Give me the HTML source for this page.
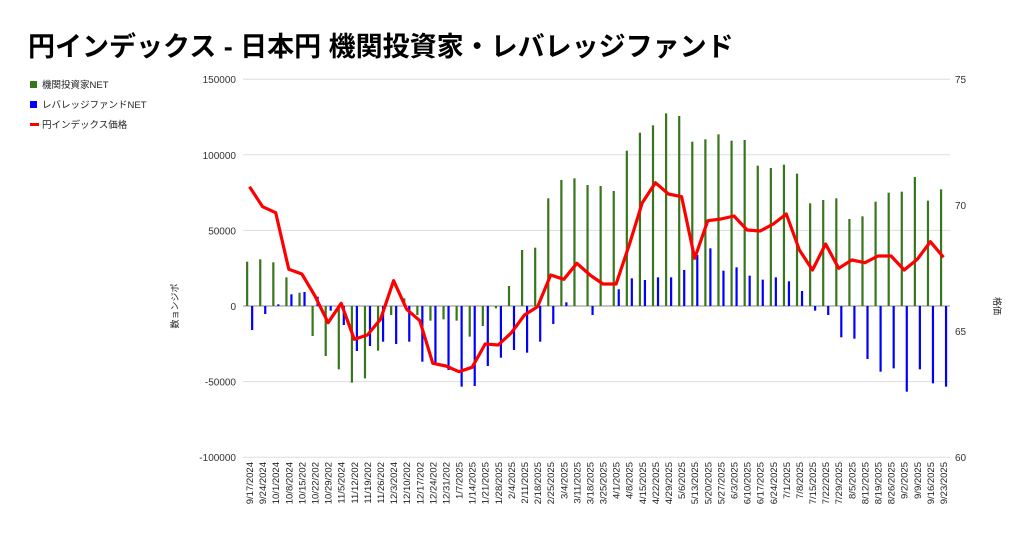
<!DOCTYPE html><html><head><meta charset="utf-8"><style>body{margin:0;background:#fff;}svg{display:block;font-family:"Liberation Sans","Noto Sans CJK JP",sans-serif;}</style></head><body>
<svg id="c" width="1024" height="540" xmlns="http://www.w3.org/2000/svg">
<text x="28" y="56" font-size="27" font-weight="bold" fill="#000">円インデックス - 日本円 機関投資家・レバレッジファンド</text>
<rect x="30" y="81" width="7" height="7" fill="#38761d"/><text x="42" y="88" font-size="9.5" fill="#222">機関投資家NET</text>
<rect x="30" y="101" width="7" height="7" fill="#0000ff"/><text x="42" y="108" font-size="9.5" fill="#222">レバレッジファンドNET</text>
<rect x="30" y="123" width="9" height="3" fill="#ff0000"/><text x="42" y="128" font-size="9.5" fill="#222">円インデックス価格</text>
<text transform="translate(178,306) rotate(-90)" text-anchor="middle" font-size="9" fill="#222">数ョンジポ</text>
<text transform="translate(994,306) rotate(90)" text-anchor="middle" font-size="9" fill="#222">格価</text>
<g id="g"></g>
</svg>
<script>
var g=document.getElementById('g'),s='';
var L=243,R=950,W=(R-L)/54;
var ticks=[150000,100000,50000,0,-50000,-100000];
ticks.forEach(function(v){var y=306-v*75.6/50000;
s+='<line x1="'+L+'" x2="'+R+'" y1="'+y+'" y2="'+y+'" stroke="'+(v==0?'#888':'#ddd')+'" stroke-width="1"/>';
s+='<text x="236" y="'+(y+4)+'" text-anchor="end" font-size="10" fill="#333">'+v+'</text>';});
[[75,79],[70,205],[65,331],[60,457]].forEach(function(a){s+='<text x="955" y="'+(a[1]+4)+'" font-size="10" fill="#333">'+a[0]+'</text>';});
var gr=[605,598,607,652,698,828,888,928,968,955,872,765,715,765,782,778,782,830,798,745,678,570,563,415,360,355,375,378,393,272,218,196,160,168,245,238,223,242,240,317,324,314,341,430,420,415,477,469,425,398,395,351,422,388];
var bl=[810,762,733,703,696,710,752,795,873,858,845,852,845,905,910,930,980,978,918,893,870,878,845,792,727,738,765,738,688,655,660,652,652,630,585,565,632,622,647,659,652,664,693,752,765,832,836,897,935,925,995,928,970,980];
var rd=[380,440,458,628,642,708,788,730,838,825,778,662,748,782,910,918,935,922,852,855,818,765,740,645,658,610,645,672,672,555,428,368,402,410,595,482,477,468,510,513,492,462,570,630,552,625,600,608,588,588,630,598,545,592];
var d=["9/17/2024","9/24/2024","10/1/2024","10/8/2024","10/15/202","10/22/202","10/29/202","11/5/2024","11/12/202","11/19/202","11/26/202","12/3/2024","12/10/202","12/17/202","12/24/202","12/31/202","1/7/2025","1/14/2025","1/21/2025","1/28/2025","2/4/2025","2/11/2025","2/18/2025","2/25/2025","3/4/2025","3/11/2025","3/18/2025","3/25/2025","4/1/2025","4/8/2025","4/15/2025","4/22/2025","4/29/2025","5/6/2025","5/13/2025","5/20/2025","5/27/2025","6/3/2025","6/10/2025","6/17/2025","6/24/2025","7/1/2025","7/8/2025","7/15/2025","7/22/2025","7/29/2025","8/5/2025","8/12/2025","8/19/2025","8/26/2025","9/2/2025","9/9/2025","9/16/2025","9/23/2025"];
function Y(v){return 60+v/3;}
var pts=[];
for(var i=0;i<54;i++){var cx=L+W*(i+0.5);
var gy=Y(gr[i]),by=Y(bl[i]);
s+='<rect x="'+(cx-3.5)+'" y="'+Math.min(gy,306)+'" width="2.2" height="'+Math.abs(gy-306)+'" fill="#38761d"/>';
s+='<rect x="'+(cx+1.5)+'" y="'+Math.min(by,306)+'" width="2.2" height="'+Math.abs(by-306)+'" fill="#0000ff"/>';
pts.push(cx.toFixed(1)+','+Y(rd[i]).toFixed(1));
s+='<text transform="translate('+(cx+3.5)+',462) rotate(-90)" text-anchor="end" font-size="9.5" fill="#222">'+d[i]+'</text>';}
s+='<polyline points="'+pts.join(' ')+'" fill="none" stroke="#ff0000" stroke-width="3.2" stroke-linejoin="round"/>';
g.innerHTML=s;
</script>
</body></html>
